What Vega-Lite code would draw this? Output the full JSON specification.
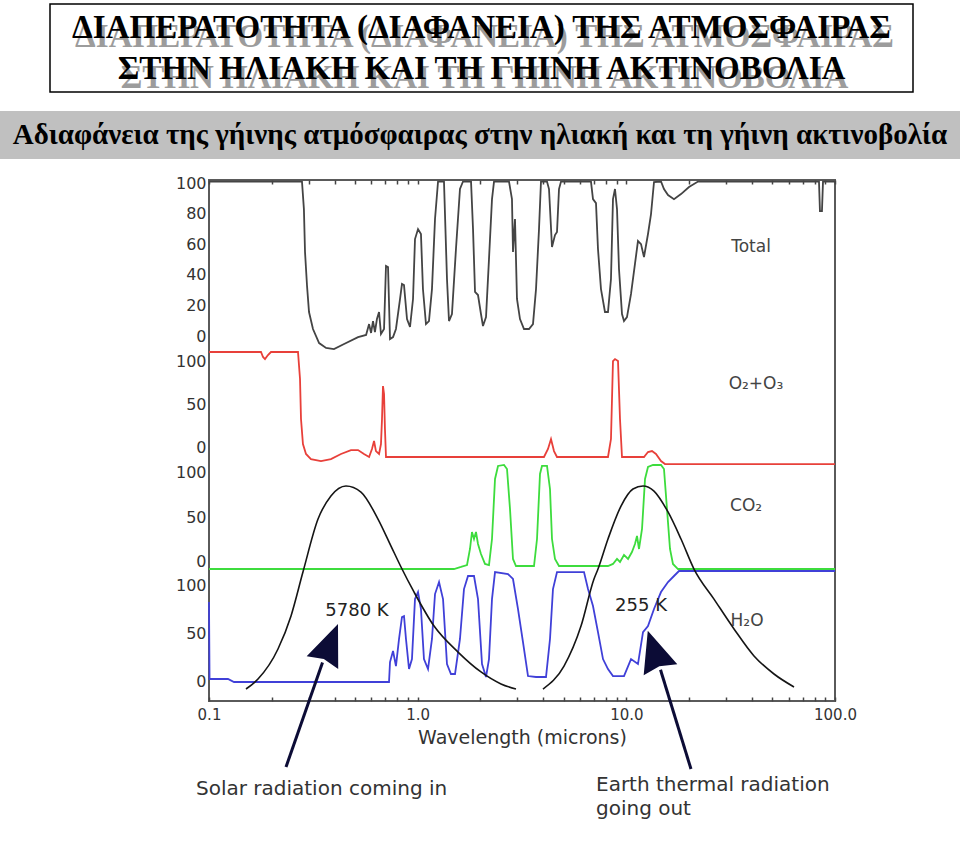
{
  "$schema": "https://vega.github.io/schema/vega-lite/v6.json",
  "background": "white",
  "padding": {"top": 3, "left": 0, "right": 0, "bottom": 0},
  "config": {"font": "DejaVu Sans", "view": {"stroke": null}},
  "datasets": {
    "total": [
      {"wl":0.1,"v":101},{"wl":0.279,"v":101},{"wl":0.285,"v":83},{"wl":0.2885,"v":54.9},{"wl":0.295,"v":32.7},{"wl":0.3015,"v":15.7},{"wl":0.315,"v":4.6},{"wl":0.337,"v":-4.6},{"wl":0.364,"v":-7.8},{"wl":0.397,"v":-8.5},{"wl":0.444,"v":-5.2},{"wl":0.518,"v":-0.7},{"wl":0.566,"v":0.7},{"wl":0.585,"v":7.8},{"wl":0.598,"v":2},{"wl":0.611,"v":9.8},{"wl":0.624,"v":2.6},{"wl":0.638,"v":11.1},{"wl":0.653,"v":15.7},{"wl":0.667,"v":1.3},{"wl":0.69,"v":4.6},{"wl":0.705,"v":45.8},{"wl":0.721,"v":45.1},{"wl":0.737,"v":-2},{"wl":0.762,"v":-0.7},{"wl":0.787,"v":4.6},{"wl":0.823,"v":24.2},{"wl":0.841,"v":34},{"wl":0.86,"v":33.3},{"wl":0.889,"v":11.1},{"wl":0.919,"v":5.9},{"wl":0.95,"v":24.2},{"wl":0.971,"v":63.4},{"wl":1.004,"v":69.9},{"wl":1.037,"v":66.7},{"wl":1.06,"v":30.7},{"wl":1.096,"v":7.8},{"wl":1.133,"v":9.8},{"wl":1.171,"v":30.7},{"wl":1.211,"v":76.5},{"wl":1.252,"v":101},{"wl":1.337,"v":101},{"wl":1.382,"v":37.3},{"wl":1.413,"v":9.8},{"wl":1.46,"v":14.4},{"wl":1.526,"v":56.9},{"wl":1.595,"v":96.1},{"wl":1.649,"v":101},{"wl":1.802,"v":101},{"wl":1.842,"v":69.9},{"wl":1.883,"v":28.8},{"wl":1.946,"v":26.8},{"wl":2.011,"v":14.4},{"wl":2.056,"v":6.5},{"wl":2.126,"v":12.4},{"wl":2.197,"v":50.3},{"wl":2.271,"v":89.5},{"wl":2.322,"v":101},{"wl":2.74,"v":101},{"wl":2.831,"v":89.5},{"wl":2.863,"v":54.9},{"wl":2.927,"v":76.5},{"wl":2.992,"v":24.2},{"wl":3.093,"v":11.1},{"wl":3.233,"v":4.6},{"wl":3.416,"v":4.6},{"wl":3.57,"v":7.8},{"wl":3.691,"v":30.7},{"wl":3.815,"v":69.9},{"wl":3.899,"v":101},{"wl":4.167,"v":101},{"wl":4.26,"v":96.1},{"wl":4.403,"v":58.2},{"wl":4.551,"v":66},{"wl":4.653,"v":68},{"wl":4.757,"v":96.1},{"wl":4.863,"v":101},{"wl":6.77,"v":101},{"wl":6.922,"v":89.5},{"wl":7.155,"v":86.9},{"wl":7.314,"v":56.9},{"wl":7.56,"v":30.7},{"wl":7.9,"v":15.7},{"wl":8.167,"v":15.7},{"wl":8.441,"v":37.3},{"wl":8.63,"v":89.5},{"wl":8.824,"v":96.1},{"wl":9.022,"v":83},{"wl":9.222,"v":43.8},{"wl":9.533,"v":14.4},{"wl":9.746,"v":9.8},{"wl":10.07,"v":12.4},{"wl":10.53,"v":27.5},{"wl":11,"v":47.1},{"wl":11.37,"v":62.1},{"wl":11.76,"v":60.1},{"wl":12.15,"v":51.6},{"wl":12.7,"v":66.7},{"wl":13.13,"v":79.7},{"wl":13.57,"v":100.7},{"wl":14.66,"v":101},{"wl":15.15,"v":96.1},{"wl":15.84,"v":92.2},{"wl":16.92,"v":89.5},{"wl":18.28,"v":92.8},{"wl":19.97,"v":97.4},{"wl":22.05,"v":101},{"wl":83.8,"v":101},{"wl":84.7,"v":81.7},{"wl":86.6,"v":81.7},{"wl":87.6,"v":101},{"wl":100,"v":101}
    ],
    "o2": [
      {"wl":0.1,"v":110.5},{"wl":0.1775,"v":110.5},{"wl":0.1815,"v":104.7},{"wl":0.1855,"v":102.3},{"wl":0.1917,"v":107},{"wl":0.1982,"v":110.5},{"wl":0.267,"v":110.5},{"wl":0.273,"v":79.1},{"wl":0.276,"v":32.6},{"wl":0.282,"v":3.5},{"wl":0.2916,"v":-8.1},{"wl":0.308,"v":-14},{"wl":0.344,"v":-16.3},{"wl":0.384,"v":-14},{"wl":0.429,"v":-8.1},{"wl":0.479,"v":-3.5},{"wl":0.518,"v":-3.5},{"wl":0.553,"v":-8.1},{"wl":0.585,"v":-11.6},{"wl":0.604,"v":-2.3},{"wl":0.618,"v":7},{"wl":0.631,"v":-4.7},{"wl":0.653,"v":-8.1},{"wl":0.667,"v":3.5},{"wl":0.6747,"v":32.6},{"wl":0.682,"v":70.9},{"wl":0.69,"v":61.6},{"wl":0.697,"v":20.9},{"wl":0.705,"v":-11.6},{"wl":0.832,"v":-11.6},{"wl":4.03,"v":-11.6},{"wl":4.213,"v":-2.3},{"wl":4.355,"v":9.3},{"wl":4.501,"v":-4.7},{"wl":4.653,"v":-11.6},{"wl":8.167,"v":-11.6},{"wl":8.441,"v":9.3},{"wl":8.63,"v":100},{"wl":8.824,"v":102.3},{"wl":9.122,"v":100},{"wl":9.325,"v":32.6},{"wl":9.533,"v":-11.6},{"wl":12.15,"v":-11.6},{"wl":12.7,"v":-5.8},{"wl":13.27,"v":-4.7},{"wl":13.87,"v":-8.1},{"wl":14.66,"v":-16.3},{"wl":15.32,"v":-19.8},{"wl":100,"v":-19.8}
    ],
    "co2": [
      {"wl":0.1,"v":-7.9},{"wl":1.493,"v":-7.9},{"wl":1.613,"v":-5.6},{"wl":1.724,"v":-3.4},{"wl":1.781,"v":14.6},{"wl":1.821,"v":33.7},{"wl":1.862,"v":25.8},{"wl":1.903,"v":33.7},{"wl":1.946,"v":20.2},{"wl":2.011,"v":9},{"wl":2.102,"v":-2.2},{"wl":2.197,"v":-3.4},{"wl":2.271,"v":25.8},{"wl":2.348,"v":93.3},{"wl":2.427,"v":107.9},{"wl":2.593,"v":109},{"wl":2.68,"v":104.5},{"wl":2.77,"v":59.6},{"wl":2.863,"v":3.4},{"wl":2.959,"v":-4.5},{"wl":3.61,"v":-4.5},{"wl":3.732,"v":25.8},{"wl":3.857,"v":98.9},{"wl":3.943,"v":107.9},{"wl":4.167,"v":107.9},{"wl":4.307,"v":82},{"wl":4.403,"v":25.8},{"wl":4.551,"v":3.4},{"wl":4.757,"v":-4.5},{"wl":8.167,"v":-4.5},{"wl":8.63,"v":-2.2},{"wl":9.022,"v":3.4},{"wl":9.325,"v":0},{"wl":9.746,"v":7.9},{"wl":10.19,"v":3.4},{"wl":10.64,"v":11.2},{"wl":11,"v":20.2},{"wl":11.25,"v":29.2},{"wl":11.5,"v":14.6},{"wl":11.89,"v":37.1},{"wl":12.29,"v":93.3},{"wl":12.7,"v":106.7},{"wl":13.42,"v":109},{"wl":14.66,"v":109},{"wl":15.15,"v":104.5},{"wl":15.66,"v":59.6},{"wl":16.19,"v":14.6},{"wl":16.73,"v":-2.2},{"wl":17.68,"v":-7.9},{"wl":100,"v":-7.9}
    ],
    "h2o": [
      {"wl":0.1,"v":82.3},{"wl":0.1006,"v":2.1},{"wl":0.1233,"v":2.1},{"wl":0.1318,"v":-1},{"wl":0.729,"v":-1},{"wl":0.737,"v":19.8},{"wl":0.762,"v":31.3},{"wl":0.787,"v":15.6},{"wl":0.814,"v":43.8},{"wl":0.841,"v":66.7},{"wl":0.86,"v":67.7},{"wl":0.879,"v":43.8},{"wl":0.909,"v":12.5},{"wl":0.939,"v":22.9},{"wl":0.971,"v":85.4},{"wl":1.004,"v":92.7},{"wl":1.037,"v":75},{"wl":1.072,"v":22.9},{"wl":1.121,"v":12.5},{"wl":1.171,"v":43.8},{"wl":1.211,"v":90.6},{"wl":1.266,"v":103.1},{"wl":1.323,"v":85.4},{"wl":1.382,"v":17.7},{"wl":1.444,"v":7.3},{"wl":1.51,"v":7.3},{"wl":1.595,"v":43.8},{"wl":1.667,"v":95.8},{"wl":1.743,"v":109.4},{"wl":1.862,"v":109.4},{"wl":1.946,"v":85.4},{"wl":2.034,"v":17.7},{"wl":2.126,"v":4.2},{"wl":2.197,"v":22.9},{"wl":2.271,"v":85.4},{"wl":2.348,"v":113.5},{"wl":2.71,"v":111.5},{"wl":2.863,"v":106.3},{"wl":3.026,"v":75},{"wl":3.197,"v":40.6},{"wl":3.379,"v":5.2},{"wl":3.691,"v":4.2},{"wl":4.121,"v":4.2},{"wl":4.307,"v":43.8},{"wl":4.451,"v":95.8},{"wl":4.653,"v":113.5},{"wl":6.268,"v":113.5},{"wl":6.552,"v":95.8},{"wl":6.922,"v":78.1},{"wl":7.314,"v":51},{"wl":7.73,"v":22.9},{"wl":8.167,"v":12.5},{"wl":8.63,"v":5.2},{"wl":9.746,"v":5.2},{"wl":10.53,"v":22.9},{"wl":11.37,"v":17.7},{"wl":12.02,"v":51},{"wl":12.7,"v":57.3},{"wl":13.57,"v":75},{"wl":14.66,"v":92.7},{"wl":15.84,"v":103.1},{"wl":16.92,"v":109.4},{"wl":17.88,"v":114.6},{"wl":100,"v":114.6}
    ],
    "bb": [
      {"T":"5780 K","wl":0.1504,"v":0},{"T":"5780 K","wl":0.1717,"v":0.049},{"T":"5780 K","wl":0.2141,"v":0.197},{"T":"5780 K","wl":0.2472,"v":0.36},{"T":"5780 K","wl":0.282,"v":0.576},{"T":"5780 K","wl":0.333,"v":0.837},{"T":"5780 K","wl":0.384,"v":0.951},{"T":"5780 K","wl":0.4534,"v":1},{"T":"5780 K","wl":0.535,"v":0.97},{"T":"5780 K","wl":0.6455,"v":0.837},{"T":"5780 K","wl":0.745,"v":0.704},{"T":"5780 K","wl":0.832,"v":0.601},{"T":"5780 K","wl":0.96,"v":0.478},{"T":"5780 K","wl":1.198,"v":0.31},{"T":"5780 K","wl":1.561,"v":0.182},{"T":"5780 K","wl":2.011,"v":0.084},{"T":"5780 K","wl":2.508,"v":0.025},{"T":"5780 K","wl":2.959,"v":0},
      {"T":"255 K","wl":3.986,"v":0},{"T":"255 K","wl":5.027,"v":0.113},{"T":"255 K","wl":6.064,"v":0.31},{"T":"255 K","wl":6.998,"v":0.542},{"T":"255 K","wl":7.314,"v":0.591},{"T":"255 K","wl":8.167,"v":0.739},{"T":"255 K","wl":9.428,"v":0.901},{"T":"255 K","wl":10.76,"v":0.985},{"T":"255 K","wl":12.02,"v":1},{"T":"255 K","wl":13.57,"v":0.975},{"T":"255 K","wl":15.84,"v":0.872},{"T":"255 K","wl":18.28,"v":0.739},{"T":"255 K","wl":21.1,"v":0.591},{"T":"255 K","wl":26.31,"v":0.443},{"T":"255 K","wl":32.81,"v":0.296},{"T":"255 K","wl":40.91,"v":0.163},{"T":"255 K","wl":51.01,"v":0.074},{"T":"255 K","wl":63.62,"v":0.01}
    ],
    "temps": [{"wl":0.512,"v":0.384,"t":"5780 K"},{"wl":11.76,"v":0.409,"t":"255 K"}],
    "captions": [{"wl":0.0866,"v":-0.493,"t":"Solar radiation coming in"},{"wl":7.155,"v":-0.473,"t":"Earth thermal radiation"},{"wl":7.155,"v":-0.591,"t":"going out"}],
    "shafts": [{"wl":0.35,"v":0.131,"wl2":0.2339,"v2":-0.384},{"wl":14.58,"v":0.095,"wl2":20.41,"v2":-0.394}],
    "heads": [{"arrow":"solar","wl":0.381,"v":0.225},{"arrow":"earth","wl":13.59,"v":0.191}]
  },
  "vconcat": [
    {
      "hconcat": [
        {
          "width": 49, "height": 88,
          "view": {"stroke": null},
          "data": {"values": [{}]},
          "mark": {"type": "text"},
          "encoding": {"text": {"value": ""}}
        },
        {
          "width": 863, "height": 88,
          "view": {"stroke": "#000000", "strokeWidth": 1.5},
          "data": {"values": [{"t": "ΔΙΑΠΕΡΑΤΟΤΗΤΑ (ΔΙΑΦΑΝΕΙΑ) ΤΗΣ ΑΤΜΟΣΦΑΙΡΑΣ\nΣΤΗΝ ΗΛΙΑΚΗ ΚΑΙ ΤΗ ΓΗΙΝΗ ΑΚΤΙΝΟΒΟΛΙΑ"}]},
          "layer": [
            {"mark": {"type": "text", "lineBreak": "\n", "font": "Liberation Serif", "fontWeight": "bold", "fontSize": 33, "lineHeight": 41, "color": "#9c9c9c", "dx": 3, "dy": -11}, "encoding": {"text": {"field": "t"}}},
            {"mark": {"type": "text", "lineBreak": "\n", "font": "Liberation Serif", "fontWeight": "bold", "fontSize": 33, "lineHeight": 41, "color": "#000000", "dy": -20}, "encoding": {"text": {"field": "t"}}}
          ]
        }
      ],
      "spacing": 0
    },
    {
      "width": 960, "height": 48,
      "view": {"fill": "#c0c0c0", "stroke": null},
      "data": {"values": [{"t": "Αδιαφάνεια της γήινης ατμόσφαιρας στην ηλιακή και τη γήινη ακτινοβολία"}]},
      "mark": {"type": "text", "font": "Liberation Serif", "fontWeight": "bold", "fontSize": 29, "color": "#000000"},
      "encoding": {"text": {"field": "t"}}
    },
    {
      "hconcat": [
        {
          "width": 174, "height": 1,
          "view": {"stroke": null},
          "data": {"values": [{}]},
          "mark": {"type": "text"},
          "encoding": {"text": {"value": ""}}
        },
        {
          "width": 626, "height": 521,
          "view": {"stroke": "#5a5a5a", "strokeWidth": 2},
          "layer": [
            {
              "data": {"name": "total"},
              "mark": {"type": "line", "color": "#444444", "strokeWidth": 1.8},
              "encoding": {
                "x": {"field": "wl", "type": "quantitative", "scale": {"type": "log", "domain": [0.1, 100], "nice": false},
                  "axis": {"orient": "bottom", "values": [0.1,0.2,0.3,0.4,0.5,0.6,0.7,0.8,0.9,1,2,3,4,5,6,7,8,9,10,20,30,40,50,60,70,80,90,100],
                    "labelExpr": "datum.value == 0.1 ? '0.1' : datum.value == 1 ? '1.0' : datum.value == 10 ? '10.0' : datum.value == 100 ? '100.0' : ''",
                    "tickSize": -4, "tickColor": "#444444", "tickWidth": 1.5, "domain": false, "grid": false,
                    "labelPadding": 10, "labelFont": "DejaVu Sans", "labelFontSize": 15, "labelColor": "#333333", "labelFlush": false, "labelOverlap": false,
                    "title": "Wavelength (microns)", "titleFont": "DejaVu Sans", "titleFontSize": 19, "titleFontWeight": "normal", "titleColor": "#333333", "titlePadding": 6}},
                "y": {"field": "v", "type": "quantitative", "scale": {"domain": [-238.6, 102], "nice": false, "zero": false},
                  "axis": {"orient": "left", "values": [0,20,40,60,80,100], "domain": false, "ticks": false, "tickSize": 0, "grid": false, "title": null, "labelFont": "DejaVu Sans", "labelFontSize": 16, "labelColor": "#333333", "labelPadding": 3, "labelFlush": false}}
              }
            },
            {
              "mark": {"type": "rule", "color": "#666666", "strokeWidth": 2.5},
              "encoding": {"y": {"datum": -9.2, "type": "quantitative", "scale": {"domain": [-238.6, 102], "nice": false, "zero": false}, "axis": null}}
            },
            {
              "data": {"values": [{"wl": 39.6, "v": 58.2, "t": "Total"}]},
              "mark": {"type": "text", "font": "DejaVu Sans", "fontSize": 17, "color": "#444444"},
              "encoding": {
                "x": {"field": "wl", "type": "quantitative", "scale": {"type": "log", "domain": [0.1, 100], "nice": false}, "axis": null},
                "y": {"field": "v", "type": "quantitative", "scale": {"domain": [-238.6, 102], "nice": false, "zero": false}, "axis": null},
                "text": {"field": "t"}
              }
            },
            {
              "data": {"name": "o2"},
              "mark": {"type": "line", "color": "#e8403a", "strokeWidth": 1.8},
              "encoding": {
                "x": {"field": "wl", "type": "quantitative", "scale": {"type": "log", "domain": [0.1, 100], "nice": false}, "axis": null},
                "y": {"field": "v", "type": "quantitative", "scale": {"domain": [-295.3, 310.5], "nice": false, "zero": false},
                  "axis": {"orient": "left", "values": [0,50,100], "domain": false, "ticks": false, "tickSize": 0, "grid": false, "title": null, "labelFont": "DejaVu Sans", "labelFontSize": 16, "labelColor": "#333333", "labelPadding": 3, "labelFlush": false}}
              }
            },
            {
              "data": {"values": [{"wl": 41.8, "v": 73.3, "t": "O₂+O₃"}]},
              "mark": {"type": "text", "font": "DejaVu Sans", "fontSize": 17, "color": "#444444"},
              "encoding": {
                "x": {"field": "wl", "type": "quantitative", "scale": {"type": "log", "domain": [0.1, 100], "nice": false}, "axis": null},
                "y": {"field": "v", "type": "quantitative", "scale": {"domain": [-295.3, 310.5], "nice": false, "zero": false}, "axis": null},
                "text": {"field": "t"}
              }
            },
            {
              "data": {"name": "co2"},
              "mark": {"type": "line", "color": "#3ddc3d", "strokeWidth": 1.8},
              "encoding": {
                "x": {"field": "wl", "type": "quantitative", "scale": {"type": "log", "domain": [0.1, 100], "nice": false}, "axis": null},
                "y": {"field": "v", "type": "quantitative", "scale": {"domain": [-156.2, 429.2], "nice": false, "zero": false},
                  "axis": {"orient": "left", "values": [0,50,100], "domain": false, "ticks": false, "tickSize": 0, "grid": false, "title": null, "labelFont": "DejaVu Sans", "labelFontSize": 16, "labelColor": "#333333", "labelPadding": 3, "labelFlush": false}}
              }
            },
            {
              "data": {"values": [{"wl": 37.5, "v": 62.9, "t": "CO₂"}]},
              "mark": {"type": "text", "font": "DejaVu Sans", "fontSize": 17, "color": "#444444"},
              "encoding": {
                "x": {"field": "wl", "type": "quantitative", "scale": {"type": "log", "domain": [0.1, 100], "nice": false}, "axis": null},
                "y": {"field": "v", "type": "quantitative", "scale": {"domain": [-156.2, 429.2], "nice": false, "zero": false}, "axis": null},
                "text": {"field": "t"}
              }
            },
            {
              "data": {"name": "h2o"},
              "mark": {"type": "line", "color": "#4040d8", "strokeWidth": 1.8},
              "encoding": {
                "x": {"field": "wl", "type": "quantitative", "scale": {"type": "log", "domain": [0.1, 100], "nice": false}, "axis": null},
                "y": {"field": "v", "type": "quantitative", "scale": {"domain": [-20.8, 521.9], "nice": false, "zero": false},
                  "axis": {"orient": "left", "values": [0,50,100], "domain": false, "ticks": false, "tickSize": 0, "grid": false, "title": null, "labelFont": "DejaVu Sans", "labelFontSize": 16, "labelColor": "#333333", "labelPadding": 3, "labelFlush": false}}
              }
            },
            {
              "data": {"values": [{"wl": 37.9, "v": 62.5, "t": "H₂O"}]},
              "mark": {"type": "text", "font": "DejaVu Sans", "fontSize": 17, "color": "#444444"},
              "encoding": {
                "x": {"field": "wl", "type": "quantitative", "scale": {"type": "log", "domain": [0.1, 100], "nice": false}, "axis": null},
                "y": {"field": "v", "type": "quantitative", "scale": {"domain": [-20.8, 521.9], "nice": false, "zero": false}, "axis": null},
                "text": {"field": "t"}
              }
            },
            {
              "data": {"name": "bb"},
              "mark": {"type": "line", "color": "#151515", "strokeWidth": 1.6, "interpolate": "monotone"},
              "encoding": {
                "x": {"field": "wl", "type": "quantitative", "scale": {"type": "log", "domain": [0.1, 100], "nice": false},
                  "axis": {"orient": "top", "values": [0.1,0.2,0.3,0.4,0.5,0.6,0.7,0.8,0.9,1,2,3,4,5,6,7,8,9,10,20,30,40,50,60,70,80,90,100], "labels": false, "tickSize": -4, "tickColor": "#444444", "tickWidth": 1.5, "domain": false, "grid": false, "title": null}},
                "y": {"field": "v", "type": "quantitative", "scale": {"domain": [-0.059, 2.507], "nice": false, "zero": false}, "axis": null},
                "detail": {"field": "T"}
              }
            },
            {
              "data": {"name": "shafts"},
              "mark": {"type": "rule", "color": "#0c0c36", "strokeWidth": 3},
              "encoding": {
                "x": {"field": "wl", "type": "quantitative", "scale": {"type": "log", "domain": [0.1, 100], "nice": false}, "axis": null},
                "x2": {"field": "wl2"},
                "y": {"field": "v", "type": "quantitative", "scale": {"domain": [-0.059, 2.507], "nice": false, "zero": false}, "axis": null},
                "y2": {"field": "v2"}
              }
            },
            {
              "data": {"name": "heads"},
              "transform": [{"filter": "datum.arrow == 'solar'"}],
              "mark": {"type": "point", "shape": "M0,-1L0.82,1L0,0.82L-0.82,1Z", "size": 1720, "filled": true, "color": "#0c0c36", "opacity": 1, "angle": 22},
              "encoding": {
                "x": {"field": "wl", "type": "quantitative", "scale": {"type": "log", "domain": [0.1, 100], "nice": false}, "axis": null},
                "y": {"field": "v", "type": "quantitative", "scale": {"domain": [-0.059, 2.507], "nice": false, "zero": false}, "axis": null}
              }
            },
            {
              "data": {"name": "heads"},
              "transform": [{"filter": "datum.arrow == 'earth'"}],
              "mark": {"type": "point", "shape": "M0,-1L0.86,1L0,0.82L-0.86,1Z", "size": 1690, "filled": true, "color": "#0c0c36", "opacity": 1, "angle": -18},
              "encoding": {
                "x": {"field": "wl", "type": "quantitative", "scale": {"type": "log", "domain": [0.1, 100], "nice": false}, "axis": null},
                "y": {"field": "v", "type": "quantitative", "scale": {"domain": [-0.059, 2.507], "nice": false, "zero": false}, "axis": null}
              }
            },
            {
              "data": {"name": "temps"},
              "mark": {"type": "text", "font": "DejaVu Sans", "fontSize": 18, "color": "#222222"},
              "encoding": {
                "x": {"field": "wl", "type": "quantitative", "scale": {"type": "log", "domain": [0.1, 100], "nice": false}, "axis": null},
                "y": {"field": "v", "type": "quantitative", "scale": {"domain": [-0.059, 2.507], "nice": false, "zero": false}, "axis": null},
                "text": {"field": "t"}
              }
            },
            {
              "data": {"name": "captions"},
              "mark": {"type": "text", "font": "DejaVu Sans", "fontSize": 20, "color": "#333333", "align": "left"},
              "encoding": {
                "x": {"field": "wl", "type": "quantitative", "scale": {"type": "log", "domain": [0.1, 100], "nice": false}, "axis": null},
                "y": {"field": "v", "type": "quantitative", "scale": {"domain": [-0.059, 2.507], "nice": false, "zero": false}, "axis": null},
                "text": {"field": "t"}
              }
            }
          ],
          "resolve": {"scale": {"y": "independent"}, "axis": {"x": "independent", "y": "independent"}}
        }
      ],
      "spacing": 0
    }
  ],
  "spacing": 15
}
